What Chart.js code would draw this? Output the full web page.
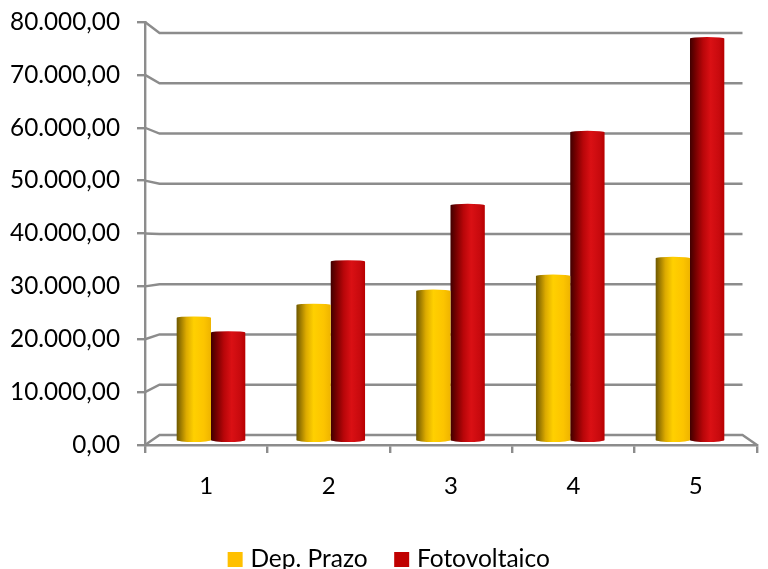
<!DOCTYPE html>
<html>
<head>
<meta charset="utf-8">
<style>html,body{margin:0;padding:0;background:#fff}canvas{display:block}</style>
<script src="https://cdn.jsdelivr.net/npm/chart.js@4"></script>
</head>
<body>
<canvas id="c" width="768" height="569"></canvas>
<script>
const categories = [1, 2, 3, 4, 5];
const depPrazo = [23680, 26160, 28890, 31810, 35240];
const fotovoltaico = [20820, 34600, 45520, 59690, 77880];
const yTickValues = [0, 10000, 20000, 30000, 40000, 50000, 60000, 70000, 80000];
const yTickLabels = ['0,00', '10.000,00', '20.000,00', '30.000,00', '40.000,00', '50.000,00', '60.000,00', '70.000,00', '80.000,00'];
const GRAY = '#8c8c8c';
const FONT = 'Lato';

function cylinder(ctx, el, stops) {
  const w = el.width, l = el.x - w / 2, r = el.x + w / 2, top = el.y, base = el.base, ry = 1.5;
  const g = ctx.createLinearGradient(l, 0, r, 0);
  stops.forEach(s => g.addColorStop(s[0], s[1]));
  ctx.save();
  ctx.fillStyle = g;
  ctx.beginPath();
  ctx.moveTo(l, top);
  ctx.lineTo(l, base);
  ctx.ellipse(el.x, base, w / 2, ry + 0.5, 0, Math.PI, 0, true);
  ctx.lineTo(r, top);
  ctx.ellipse(el.x, top, w / 2, ry, 0, 0, Math.PI, true);
  ctx.closePath();
  ctx.fill();
  ctx.restore();
}
const styles = [
  { stops: [[0, '#6e5800'], [0.1, '#957500'], [0.28, '#dcaa00'], [0.5, '#ffd000'], [0.8, '#fcc400'], [1, '#eeb400']] },
  { stops: [[0, '#400000'], [0.15, '#720000'], [0.38, '#b80609'], [0.6, '#da1014'], [0.85, '#c80a0e'], [1, '#b80000']] }
];

const depthPlugin = {
  id: 'depth',
  afterLayout(chart) {
    const lg = chart.legend;
    const h = lg.bottom - lg.top;
    lg.top = 549 - h / 2;
    lg.bottom = lg.top + h;
    lg.left += 12.5;
    lg.right += 12.5;
  },
  beforeDatasetsDraw(chart) {
    const { ctx, scales } = chart;
    const a = chart.chartArea;
    const inset = 14.5;
    ctx.save();
    ctx.strokeStyle = GRAY;
    ctx.lineWidth = 2.4;
    yTickValues.forEach(v => {
      const yf = scales.y.getPixelForValue(v);
      const yb = scales.yBack.getPixelForValue(v);
      ctx.beginPath();
      ctx.moveTo(a.left, yf);
      ctx.lineTo(a.left + inset, yb);
      ctx.lineTo(a.right - inset, yb);
      if (v === 0) ctx.lineTo(a.right, yf);
      ctx.stroke();
    });
    ctx.restore();
  },
  beforeDatasetDraw(chart, args) {
    const s = styles[args.index];
    args.meta.data.forEach(el => cylinder(chart.ctx, el, s.stops));
    return false;
  }
};

new Chart(document.getElementById('c'), {
  type: 'bar',
  plugins: [depthPlugin],
  data: {
    labels: categories,
    datasets: [
      { label: 'Dep. Prazo', data: depPrazo, backgroundColor: '#FFC000', xAxisID: 'xBar', yAxisID: 'yBar', barPercentage: 1, categoryPercentage: 0.573 },
      { label: 'Fotovoltaico', data: fotovoltaico, backgroundColor: '#C00000', xAxisID: 'xBar', yAxisID: 'yBar', barPercentage: 1, categoryPercentage: 0.573 }
    ]
  },
  options: {
    responsive: false,
    animation: false,
    devicePixelRatio: 1,
    layout: { padding: { left: 0, right: 11, top: 22, bottom: 0 } },
    plugins: {
      tooltip: { enabled: false },
      legend: {
        position: 'bottom',
        labels: {
          boxWidth: 6, boxHeight: 6, padding: 31, color: '#000',
          font: { family: FONT, size: 24.5 },
          generateLabels(chart) {
            return chart.data.datasets.map((d, i) => ({
              text: d.label, fillStyle: d.backgroundColor, strokeStyle: d.backgroundColor,
              lineWidth: 9, datasetIndex: i, fontColor: '#000'
            }));
          }
        }
      }
    },
    scales: {
      x: {
        type: 'category', position: 'bottom', offset: true,
        grid: { offset: true, drawOnChartArea: false, color: GRAY, lineWidth: 2.4, tickLength: 8 },
        border: { color: GRAY, width: 2.4 },
        ticks: { color: '#000', padding: 19, font: { family: FONT, size: 24 }, maxRotation: 0 },
        afterFit(scale) { scale.height = 124 - (scale.chart.legend ? scale.chart.legend.height : 0); scale.paddingLeft = 0; scale.paddingRight = 0; }
      },
      y: {
        type: 'linear', position: 'left', min: 0, max: 80000,
        afterBuildTicks(scale) { scale.ticks = yTickValues.map(value => ({ value })); },
        grid: { drawOnChartArea: false, color: GRAY, lineWidth: 2.4, tickLength: 8 },
        border: { color: GRAY, width: 2.4 },
        ticks: { color: '#000', padding: 17, font: { family: FONT, size: 24.3 }, callback: (v, i) => yTickLabels[i] },
        afterFit(scale) { scale.width = 145; scale.paddingTop = 0; scale.paddingBottom = 0; }
      },
      yBack: { type: 'linear', display: false, min: -2000, max: 82200 },
      yBar: { type: 'linear', display: false, min: -975, max: 81092 },
      xBar: { type: 'linear', display: false, offset: false, min: 0.4489, max: 5.5595, ticks: { stepSize: 1, includeBounds: false } }
    }
  }
});
</script>
</body>
</html>
